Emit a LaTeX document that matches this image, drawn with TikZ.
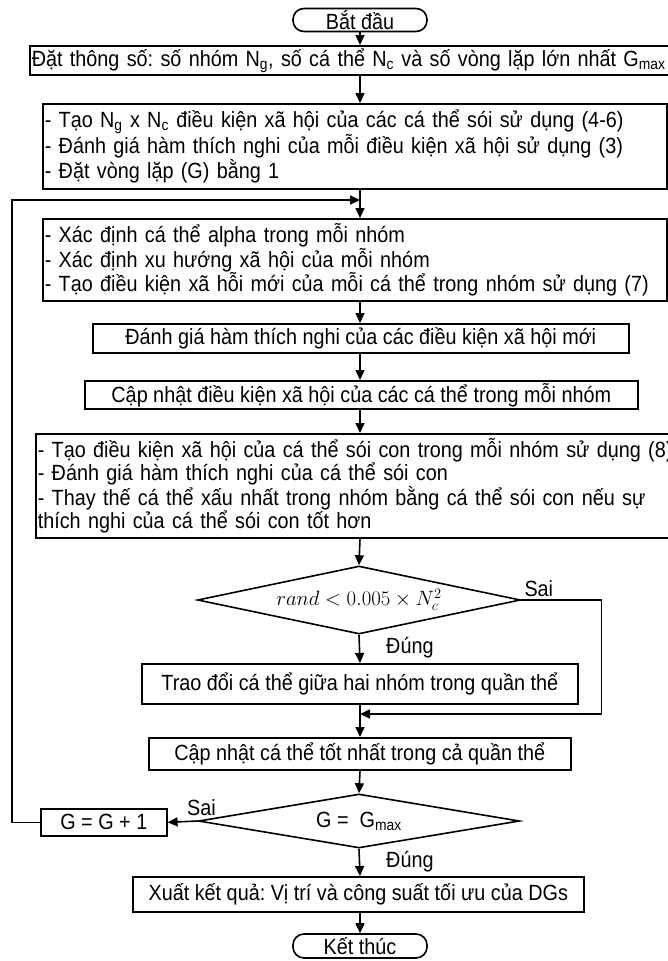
\documentclass[tikz,border=0pt]{standalone}
\usepackage{fontspec}
\setmainfont[FakeStretch=0.9]{Liberation Sans}
\usetikzlibrary{shapes.geometric,arrows.meta}
\frenchspacing

\begin{document}
\begin{tikzpicture}[x=1pt,y=-1pt,
  every node/.style={font=\fontsize{22}{23}\selectfont},
  box/.style={draw,line width=1.6pt,inner sep=2pt,anchor=north west},
  term/.style={draw,line width=1.6pt,rounded corners=11pt,minimum width=134pt,minimum height=23pt,inner sep=0pt},
  dec/.style={draw,diamond,line width=1.6pt,inner sep=0pt,aspect=4},
  lbl/.style={inner sep=1pt},
  arr/.style={line width=1.6pt,-{Triangle[length=10pt,width=9pt]}},
  ln/.style={line width=1.6pt}]
\useasboundingbox (0,0) rectangle (668,961);
\coordinate (ax) at (360,0);

\node[term] (start) at (360,20) {Bắt đầu};
\node[box,minimum width=661pt,minimum height=29pt,text width=657pt,align=left] (set) at (29,45)
  {Đặt thông số: số nhóm N\textsubscript{g}, số cá thể N\textsubscript{c} và số vòng lặp lớn nhất G\textsubscript{max}};
\node[box,minimum width=624pt,minimum height=85pt,text width=620pt,align=left] (init) at (42,103)
  {- Tạo N\textsubscript{g} x N\textsubscript{c} điều kiện xã hội của các cá thể sói sử dụng (4-6)\\
   - Đánh giá hàm thích nghi của mỗi điều kiện xã hội sử dụng (3)\\
   - Đặt vòng lặp (G) bằng 1};
\coordinate (j1) at (360,200);
\node[box,minimum width=624pt,minimum height=82pt,text width=620pt,align=left] (alpha) at (42,218)
  {- Xác định cá thể alpha trong mỗi nhóm\\
   - Xác định xu hướng xã hội của mỗi nhóm\\
   - Tạo điều kiện xã hỗi mới của mỗi cá thể trong nhóm sử dụng (7)};
\node[box,minimum width=536pt,minimum height=29pt] (eval) at (92,323)
  {Đánh giá hàm thích nghi của các điều kiện xã hội mới};
\node[box,minimum width=553pt,minimum height=28pt] (upd) at (84,380)
  {Cập nhật điều kiện xã hội của các cá thể trong mỗi nhóm};
\node[box,minimum width=655pt,minimum height=104pt,text width=651pt,align=left] (pup) at (35,433)
  {- Tạo điều kiện xã hội của cá thể sói con trong mỗi nhóm sử dụng (8)\\
   - Đánh giá hàm thích nghi của cá thể sói con\\
   - Thay thế cá thể xấu nhất trong nhóm bằng cá thể sói con nếu sự\\
   thích nghi của cá thể sói con tốt hơn};
\node[dec,minimum width=323pt,minimum height=68pt] (dia1) at (359,600)
  {\fontsize{20}{22}\selectfont$rand < 0.005\times N_c^2$};
\node[lbl,anchor=south west] (sai1) at ([xshift=2pt,yshift=2pt]dia1.east) {Sai};
\node[lbl,anchor=west] (dung1) at (385,648) {Đúng};
\node[box,minimum width=436pt,minimum height=40pt] (exch) at (141,663)
  {Trao đổi cá thể giữa hai nhóm trong quần thể};
\coordinate (m1) at (360,714);
\node[box,minimum width=422pt,minimum height=32pt] (best) at (148,737)
  {Cập nhật cá thể tốt nhất trong cả quần thể};
\node[dec,minimum width=321pt,minimum height=54pt] (dia2) at (359,821)
  {G =\ \ G\textsubscript{max}};
\node[box,minimum width=126pt,minimum height=27pt] (inc) at (40,808)
  {G = G + 1};
\node[lbl,anchor=south west] (sai2) at (186,817) {Sai};
\node[lbl,anchor=west] (dung2) at (385,862) {Đúng};
\node[box,minimum width=451pt,minimum height=35pt] (out) at (132,876)
  {Xuất kết quả: Vị trí và công suất tối ưu của DGs};
\node[term,minimum height=24pt] (stop) at (360,946) {Kết thúc};

\draw[arr] (start.south) -- (ax |- set.north);
\draw[arr] (ax |- set.south) -- (ax |- init.north);
\draw[ln] (ax |- init.south) -- (j1);
\draw[arr] (j1) -- (ax |- alpha.north);
\draw[arr] (ax |- alpha.south) -- (ax |- eval.north);
\draw[arr] (ax |- eval.south) -- (ax |- upd.north);
\draw[arr] (ax |- upd.south) -- (ax |- pup.north);
\draw[arr] (ax |- pup.south) -- (dia1.north);
\draw[arr] (dia1.south) -- (ax |- exch.north);
\draw[arr] (dia1.east) -- ++(80,0) |- (m1);
\draw[arr] (ax |- exch.south) -- (ax |- best.north);
\draw[arr] (ax |- best.south) -- (dia2.north);
\draw[arr] (dia2.west) -- (inc.east);
\draw[arr] (inc.west) -- ++(-28,0) |- (j1);
\draw[arr] (dia2.south) -- (ax |- out.north);
\draw[arr] (ax |- out.south) -- (stop.north);
\end{tikzpicture}
\end{document}
